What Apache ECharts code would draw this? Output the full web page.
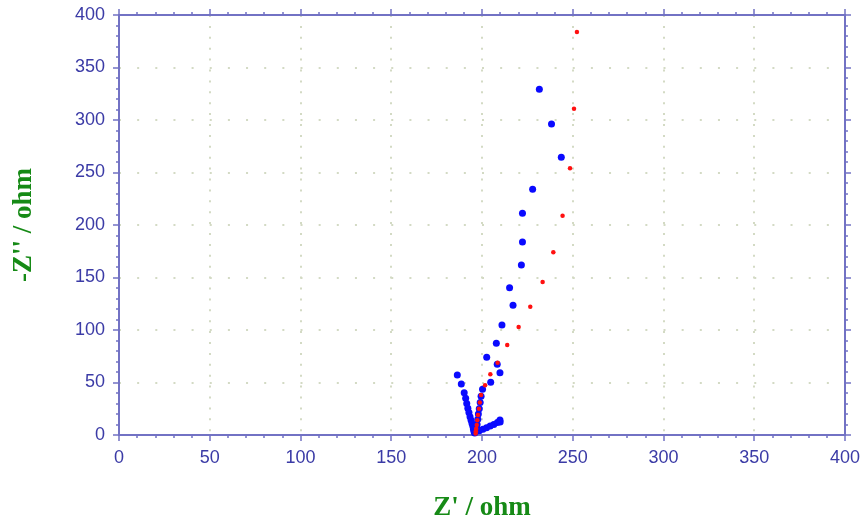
<!DOCTYPE html>
<html>
<head>
<meta charset="utf-8">
<script src="https://cdn.jsdelivr.net/npm/echarts@6/dist/echarts.min.js"></script>
<style>
  html, body { margin: 0; padding: 0; background: #fff; }
  #chart { width: 863px; height: 531px; }
</style>
</head>
<body>
<div id="chart"></div>
<script>
// blue series: Z' (real) and -Z'' (imag), ohm
var blueRe = [231.6, 238.3, 243.7, 227.9, 222.3, 222.3, 221.7, 215.2, 217.1, 211.0, 207.9, 202.6, 208.4, 209.9, 204.8, 200.3,
  199.5, 199.0, 198.5, 198.0, 197.7, 197.3, 197.1,
  196.5, 198.5, 200.5, 202.5, 204.5, 206.5, 208.5, 209.9, 210.0,
  186.4, 188.6, 190.2, 191.0, 191.6, 192.2, 192.8, 193.4, 194.0, 194.5, 195.0, 195.3, 195.6, 196.0];
var blueIm = [329.2, 296.2, 264.5, 234.0, 211.1, 183.8, 161.9, 140.3, 123.5, 104.8, 87.3, 74.0, 67.3, 59.4, 50.2, 43.5,
  37.0, 31.0, 25.0, 20.0, 15.0, 10.0, 6.0,
  3.0, 4.0, 5.5, 7.0, 8.5, 10.0, 12.0, 14.3, 12.5,
  57.1, 48.6, 40.3, 35.0, 30.0, 25.5, 21.5, 17.5, 14.0, 11.0, 8.0, 5.5, 3.2, 1.8];

// red series
var redRe = [252.3, 250.7, 248.5, 244.4, 239.3, 233.4, 226.6, 220.2, 213.9, 208.6, 204.6, 201.7,
  199.5, 198.8, 198.3, 197.8, 197.4, 197.1, 196.8, 196.6, 196.5];
var redIm = [383.8, 310.8, 254.0, 208.9, 174.0, 145.7, 122.2, 102.9, 85.7, 68.9, 57.8, 47.3,
  38.0, 31.0, 25.0, 19.0, 14.0, 9.5, 6.0, 3.5, 1.5];

var axisTicks = [0, 400, 50]; // min, max, step

var axisColor = '#7272c4';
var labelColor = '#3b3ba6';
var titleColor = '#168a16';
var gridColor = '#d3dac4';

function pairs(xs, ys) {
  var out = [];
  for (var i = 0; i < xs.length; i++) out.push([xs[i], ys[i]]);
  return out;
}

function makeAxis(pos, withLabels, dash) {
  return {
    type: 'value',
    position: pos,
    min: axisTicks[0],
    max: axisTicks[1],
    interval: axisTicks[2],
    axisLine: { show: true, onZero: false, lineStyle: { color: axisColor, width: 2 } },
    axisTick: { show: true, length: 6, lineStyle: { color: axisColor, width: 1.5 } },
    minorTick: { show: true, splitNumber: 5, length: 3, lineStyle: { color: axisColor, width: 1.5 } },
    axisLabel: {
      show: withLabels, margin: 14, color: labelColor,
      fontFamily: 'Liberation Sans, Arial', fontSize: 18
    },
    splitLine: withLabels ? {
      show: true, lineStyle: { color: gridColor, width: 2, type: dash }
    } : { show: false }
  };
}

var titleStyle = {
  color: titleColor, fontFamily: 'Liberation Serif, Times New Roman',
  fontWeight: 'bold', fontSize: 27
};

var xBottom = makeAxis('bottom', true, [2, 8.9]);
xBottom.name = "Z' / ohm";
xBottom.nameLocation = 'middle';
xBottom.nameGap = 60;
xBottom.nameTextStyle = titleStyle;

var yLeft = makeAxis('left', true, [2, 16.15]);
yLeft.name = "-Z'' / ohm";
yLeft.nameLocation = 'middle';
yLeft.nameGap = 81;
yLeft.nameTextStyle = titleStyle;

var chart = echarts.init(document.getElementById('chart'), null, { renderer: 'canvas' });
chart.setOption({
  animation: false,
  backgroundColor: '#ffffff',
  grid: { left: 119, right: 18, top: 15, bottom: 96, containLabel: false },
  xAxis: [xBottom, makeAxis('top', false)],
  yAxis: [yLeft, makeAxis('right', false)],
  series: [
    {
      type: 'scatter', name: 'blue', xAxisIndex: 0, yAxisIndex: 0,
      data: pairs(blueRe, blueIm), symbolSize: 7,
      itemStyle: { color: '#0a0aff', opacity: 1 }
    },
    {
      type: 'scatter', name: 'red', xAxisIndex: 0, yAxisIndex: 0,
      data: pairs(redRe, redIm), symbolSize: 4.5,
      itemStyle: { color: '#ff1010', opacity: 1 }
    }
  ]
});
</script>
</body>
</html>
